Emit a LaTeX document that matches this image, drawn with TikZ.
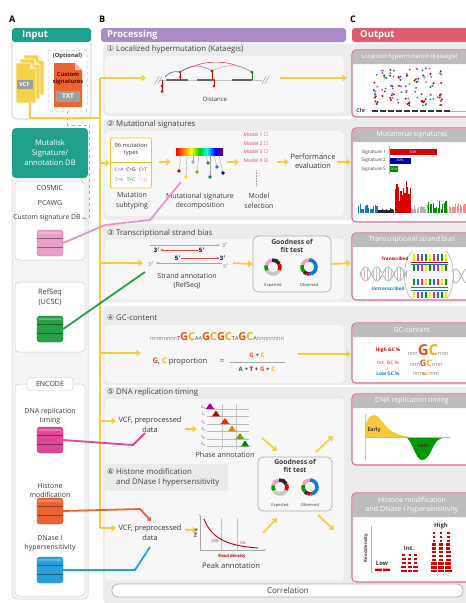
\documentclass[tikz,border=0pt]{standalone}
\usepackage{fontspec}
\setmainfont{Open Sans}
\newfontfamily\symfont{DejaVu Sans}
\usetikzlibrary{arrows.meta}

\definecolor{mteal}{RGB}{32,160,140}
\definecolor{mpurple}{RGB}{170,138,200}
\definecolor{mred}{RGB}{222,92,110}
\definecolor{outline}{RGB}{214,110,140}
\definecolor{yline}{RGB}{246,206,60}
\definecolor{bandgray}{RGB}{236,236,236}
\definecolor{panelgray}{RGB}{247,247,247}
\definecolor{hdgray}{RGB}{188,188,188}
\definecolor{dbpink}{RGB}{232,160,200}
\definecolor{dbgreen}{RGB}{40,160,70}
\definecolor{dbmagenta}{RGB}{226,70,150}
\definecolor{dborange}{RGB}{236,100,50}
\definecolor{dbblue}{RGB}{40,160,222}
\definecolor{vcfyellow}{RGB}{244,210,70}
\definecolor{txtorange}{RGB}{236,100,50}
\definecolor{gcG}{RGB}{232,84,30}
\definecolor{gcC}{RGB}{240,176,20}
\definecolor{modelred}{RGB}{215,70,120}

\pgfdeclarehorizontalshading{rainbowbar}{100bp}{color(0bp)=(red); color(25bp)=(red); color(33bp)=(orange); color(41bp)=(yellow); color(50bp)=(green!80!black); color(58bp)=(cyan); color(66bp)=(blue); color(75bp)=(violet!80!black); color(100bp)=(violet!80!black)}

\newcommand\sqS[2]{{\fontsize{5.5}{6}\selectfont\color{#1}#2}}
\newcommand\sqB[2]{{\fontsize{11}{11}\selectfont\bfseries\color{#1}#2}}

\tikzset{
  fs/.style 2 args={font=\fontsize{#1}{#2}\selectfont},
  lab/.style={inner sep=0pt, align=center, text=black!78},
  hdtext/.style={inner sep=0pt, text=white, font=\bfseries\fontsize{9.5}{10}\selectfont},
  sechd/.style={inner sep=0pt, anchor=west, text=black!75, font=\fontsize{7.8}{9.6}\selectfont, align=left},
  yarr/.style={draw=yline, line width=1.7pt, -{Triangle[length=4.5pt,width=6.5pt]}},
  ypath/.style={draw=yline, line width=1.7pt},
  dbline/.style={line width=1.8pt},
  wbox/.style={draw=gray!40, fill=white, rounded corners=4pt, line width=0.5pt},
  outbox/.style={draw=outline, line width=1.1pt, fill=white, rounded corners=4pt},
  outtxt/.style={inner sep=0pt, text=white, font=\fontsize{7}{8.6}\selectfont, align=center},
  gbox/.style={draw=gray!65, fill=panelgray, rounded corners=5pt, line width=0.7pt},
  dbnode/.style={rectangle, rounded corners=3pt, minimum width=26pt, minimum height=26pt, inner sep=0pt,
    fill=#1, draw=#1!75!black, line width=0.4pt,
    path picture={
      \draw[#1!60!black, line width=0.5pt] ([yshift=-8.7pt]path picture bounding box.north west) -- ([yshift=-8.7pt]path picture bounding box.north east);
      \draw[#1!60!black, line width=0.5pt] ([yshift=8.7pt]path picture bounding box.south west) -- ([yshift=8.7pt]path picture bounding box.south east);
      \fill[white, opacity=0.25] ([yshift=-2pt]path picture bounding box.north west) rectangle ([yshift=-4pt]path picture bounding box.north east);
    }},
  expdonut/.pic={
    \foreach \a/\b/\c in {195/260/dbpink, 262/335/black!85, 337/388/red!85!black, 30/150/gray!45, 152/193/green!60!black}
      \draw[line width=3.6pt, \c] (\a:7) arc[start angle=\a, end angle=\b, radius=7];
  },
  obsdonut/.pic={
    \foreach \a/\b/\c in {200/268/dbpink, 270/445/cyan!60!blue, 85/110/red!85!black, 110/137/black!85, 139/198/green!60!black}
      \draw[line width=3.6pt, \c] (\a:7) arc[start angle=\a, end angle=\b, radius=7];
  },
}

\begin{document}
\begin{tikzpicture}[x=1pt,y=-1pt]
\useasboundingbox (0,0) rectangle (466,603);
\clip (0,0) rectangle (466,603);
\fill[white] (0,0) rectangle (466,603);

% ---------- panel letters
\node[inner sep=0, anchor=west, font=\bfseries\fontsize{9}{10}\selectfont] (letA) at (9,19) {A};
\node[inner sep=0, anchor=west, font=\bfseries\fontsize{9}{10}\selectfont] (letB) at (99,19) {B};
\node[inner sep=0, anchor=west, font=\bfseries\fontsize{9}{10}\selectfont] (letC) at (350,19) {C};

% ---------- section bands of the processing / output area
\fill[bandgray, rounded corners=4pt] (103,44) rectangle (472,116);
\fill[bandgray, rounded corners=4pt] (103,119) rectangle (472,220);
\fill[bandgray, rounded corners=4pt] (103,224) rectangle (472,302);
\fill[bandgray, rounded corners=4pt] (103,306) rectangle (472,385);
\fill[bandgray, rounded corners=4pt] (103,387) rectangle (472,603);
\fill[panelgray, rounded corners=4pt] (105,56) rectangle (344,113);
\fill[panelgray, rounded corners=4pt] (105,131) rectangle (344,216);
\fill[panelgray, rounded corners=4pt] (105,239) rectangle (344,299);
\fill[panelgray, rounded corners=4pt] (105,325) rectangle (344,383);
\fill[panelgray, rounded corners=4pt] (105,399) rectangle (344,580);

% ---------- column A: input
\draw[gray!45, fill=white, rounded corners=5pt, line width=0.6pt] (12,36) rectangle (91,119);
\fill[mteal, rounded corners=3pt] (12,28) rectangle (91,42);
\node[hdtext, anchor=west] (inputhd) at (22,35) {Input};

\foreach \dx/\dy in {8/-8, 4/-4, 0/0}{
  \filldraw[fill=vcfyellow, draw=white, line width=0.6pt] (16+\dx,63+\dy) -- (16+\dx,103+\dy) -- (36+\dx,103+\dy) -- (36+\dx,69+\dy) -- (30+\dx,63+\dy) -- cycle;
  \fill[white!60!vcfyellow] (30+\dx,63+\dy) -- (30+\dx,69+\dy) -- (36+\dx,69+\dy) -- cycle;
}
\node[fill=gray!75, text=white, font=\bfseries\fontsize{5.6}{6}\selectfont, inner sep=0, minimum width=16pt, minimum height=9pt] (vcflab) at (24.5,84) {VCF};
\coordinate (vcfout) at (30,103);

\draw[gray!60, dashed, line width=0.5pt, rounded corners=2pt] (48,50) rectangle (87,111);
\node[lab, font=\bfseries\fontsize{5.8}{6}\selectfont] (optlab) at (67.5,56) {(Optional)};
\fill[txtorange] (54,63) -- (54,107) -- (82,107) -- (82,70) -- (75,63) -- cycle;
\fill[white!60!txtorange] (75,63) -- (75,70) -- (82,70) -- cycle;
\node[lab, text=red!35!black, font=\bfseries\fontsize{5.8}{7}\selectfont] (custsig) at (68,79) {Custom\\signatures};
\node[fill=gray!75, text=white, font=\bfseries\fontsize{6.5}{6.5}\selectfont, inner sep=0, minimum width=24pt, minimum height=11pt] (txtlab) at (68,96) {TXT};
\coordinate (optout) at (67.5,111);

% ---------- column A: signature / annotation databases
\draw[gray!40, fill=gray!8, rounded corners=4pt, line width=0.5pt] (12,170) rectangle (88,599);
\fill[mteal, rounded corners=4pt] (12,128) rectangle (88,178);
\node[lab, text=white, fs={7.6}{10}] (dbtitle) at (50,153) {Mutalisk\\Signature/\\annotation DB};

\draw[wbox] (15,181) rectangle (85,260);
\node[lab, fs={7}{7}] (cosmic) at (50,188) {COSMIC};
\node[lab, fs={7}{7}] (pcawg) at (50,203) {PCAWG};
\node[lab, fs={6.8}{7}] (csdb) at (47,218) {Custom signature DB};
\node[dbnode=dbpink] (pinkdb) at (50,243) {};

\draw[wbox] (15,282) rectangle (85,352);
\node[lab, fs={7.3}{10}] (refseq) at (50,297) {RefSeq\\(UCSC)};
\node[dbnode=dbgreen] (greendb) at (50,329) {};

\draw[wbox] (15,384) rectangle (85,596);
\node[draw=gray!45, fill=white, rounded corners=3pt, inner sep=0, minimum width=46pt, minimum height=13pt, fs={7}{7}, text=black!78] (encode) at (50,384) {ENCODE};
\node[lab, fs={7}{9}] (dnarep) at (50,416) {DNA replication\\timing};
\node[dbnode=dbmagenta] (magdb) at (50,440) {};
\node[lab, fs={7}{9}] (histone) at (50,490) {Histone\\modification};
\node[dbnode=dborange] (orgdb) at (50,511) {};
\node[lab, fs={7}{9}] (dnase) at (50,543) {DNase I\\hypersensitivity};
\node[dbnode=dbblue] (bluedb) at (50,570) {};

% dashed route of the optional signatures
\draw[gray!60, dashed, line width=0.6pt, -{Stealth[length=3pt]}] (optout) -- (67.5,125) -- (89.5,125) -- (89.5,218) -- ([xshift=1pt]csdb.east);

% ---------- yellow data flow
\coordinate (ytop) at (100,78);
\coordinate (ybot) at (100,528);
\coordinate (yjoin) at (100,118);
\draw[ypath] (vcfout) -- (30,118) -- (yjoin);
\draw[ypath] (ytop) -- (ybot);

% ---------- (1) kataegis
\node[sechd] (h1) at (107,49) {{\symfont ①} Localized hypermutation (Kataegis)};
\coordinate (katin) at (146,78);
\coordinate (katout1) at (280,78);
\coordinate (katout2) at (347,78);
\draw[yarr] (ytop) -- (katin);
\draw[yarr] (katout1) -- (katout2);
\draw[gray!50, line width=0.6pt] (160,80) -- (262,80);
\foreach \a/\b in {166/188, 197/215, 232/252}
  \draw[black!60, line width=2pt] (\a,80) -- (\b,80);
\draw[gray!70, line width=0.5pt] (155,84) -- (159,76) (158,84) -- (162,76) (262,84) -- (266,76) (265,84) -- (269,76);
\draw[cyan!60!blue, line width=0.6pt] (165,77) to[bend left=30] (180,72);
\draw[cyan!50!blue!70, line width=0.6pt] (180,72) to[bend left=35] (212,71);
\draw[red!75, line width=0.6pt] (180,72) to[bend left=28] (252,72);
\draw[gray!60, line width=0.6pt] (212,71) to[bend left=30] (252,72);
\draw[red!80!black, line width=0.5pt] (162,80) -- (162,92);
\fill[red!80!black] (162,86) circle (1.3) (162,91.5) circle (1.3);
\draw[red!80!black, line width=0.5pt] (180,80) -- (180,72);
\fill[cyan!60!blue] (180,72) circle (1.5);
\fill[red!80!black] (180,77) circle (1.1);
\draw[red!80!black, line width=0.5pt] (212,80) -- (212,71) (214,80) -- (214,86);
\fill[red!80!black] (212,71) circle (1.5) (214,86) circle (1.3);
\draw[green!50!black, line width=0.5pt] (252,80) -- (252,72);
\fill[green!50!black] (252,72) circle (1.5);
\node[lab, fs={6}{6}] (dist) at (215,99) {Distance};

% ---------- (2) mutational signatures
\node[sechd] (h2) at (107,124) {{\symfont ②} Mutational signatures};
\node[draw=yline!80!orange, line width=0.8pt, fill=white, rounded corners=2pt, minimum width=41pt, minimum height=50pt, inner sep=0] (mbox) at (131,163) {};
\draw[yline!80!orange, line width=0.6pt] ([yshift=1pt]mbox.west) -- ([yshift=1pt]mbox.east);
\node[lab, fs={5.8}{7}] (m96) at (131,150) {96 mutation\\types};
\node[lab, fs={4.8}{5}, text=blue!70] (ca) at (119,170) {C>A};
\node[lab, fs={4.8}{5}, text=black] (cg) at (131,170) {C>G};
\node[lab, fs={4.8}{5}, text=red!80!black] (ct) at (143,170) {C>T};
\node[lab, fs={4.8}{5}, text=gray] (ta) at (119,180) {T>A};
\node[lab, fs={4.8}{5}, text=green!55!black] (tc) at (131,180) {T>C};
\node[lab, fs={4.8}{5}, text=dbpink] (tg) at (143,180) {T>G};
\node[lab, fs={7}{9.5}] (msub) at (132,201) {Mutation\\subtyping};
\draw[yarr] (100,163) -- (mbox.west);

\coordinate (dec1) at (159,162);
\coordinate (dec2) at (171,162);
\draw[yarr] (dec1) -- (dec2);
\shade[shading=rainbowbar] (176,148) rectangle (223,155);
\foreach \xa/\xb/\yb/\c in {181/179/171/red!85!black, 187/186/177/yellow!80!orange, 193/193/162/gray!70, 199/197/172/olive!80!yellow, 206/208/163/teal!60!gray, 210/210/177/teal, 214/217/167/cyan!60!blue, 219/223/173/blue!60!black}{
  \draw[gray!70, line width=0.4pt] (\xa,155) -- (\xb,\yb);
  \fill[\c] (\xb,\yb) circle (1.8);
}
\node[lab, fs={7}{9.5}] (mdec) at (200,201) {Mutational signature\\decomposition};

\coordinate (sel1) at (227,162);
\coordinate (sel2) at (239,162);
\draw[yarr] (sel1) -- (sel2);
\node[lab, text=modelred, fs={5}{5}] (mod1) at (256,135) {Model 1 {\symfont ☐}};
\node[lab, text=modelred, fs={5}{5}] (mod2) at (256,143.5) {Model 2 {\symfont ☐}};
\node[lab, text=modelred, fs={5}{5}] (mod3) at (256,152) {Model 3 {\symfont ☐}};
\node[lab, text=modelred, fs={5}{5}] (mod4) at (256,160.5) {Model 4 {\symfont ☑}};
\draw[gray!70, densely dotted, line width=0.6pt] (256,170) -- (256,187);
\node[lab, fs={7}{9.5}] (msel) at (259,201) {Model\\selection};

\coordinate (perf1) at (277,162);
\coordinate (perf2) at (289,162);
\draw[yarr] (perf1) -- (perf2);
\node[lab, fs={7.4}{9.5}] (perf) at (313,161) {Performance\\evaluation};
\coordinate (perf3) at (337,162);
\coordinate (perf4) at (351,162);
\draw[yarr] (perf3) -- (perf4);

% ---------- (3) transcriptional strand bias
\node[sechd] (h3) at (107,233) {{\symfont ③} Transcriptional strand bias};
\coordinate (sb1) at (150,245);
\coordinate (sb2) at (220,245);
\draw[gray!70, line width=0.6pt, -{Stealth[length=3pt]}] (sb1) -- (sb2);
\node[lab, fs={5.5}{5.5}, text=gray] (p1) at (225,245) {3$'$};
\node[lab, font=\bfseries\fontsize{6}{6}\selectfont, text=black] (p2) at (157,250) {3$'$};
\node[lab, font=\bfseries\fontsize{6}{6}\selectfont, text=black] (p3) at (202,250) {5$'$};
\draw[red!75, line width=0.9pt, -{Stealth[length=3pt]}] (p3.west) -- (p2.east);
\node[lab, font=\bfseries\fontsize{6}{6}\selectfont, text=black] (p4) at (178,258) {5$'$};
\node[lab, font=\bfseries\fontsize{6}{6}\selectfont, text=black] (p5) at (223,258) {3$'$};
\draw[red!75, line width=0.9pt, -{Stealth[length=3pt]}] (p4.east) -- (p5.west);
\coordinate (sb3) at (222,263);
\coordinate (sb4) at (156,263);
\draw[gray!70, line width=0.6pt, -{Stealth[length=3pt]}] (sb3) -- (sb4);
\node[lab, fs={5.5}{5.5}, text=gray] (p6) at (151,264) {3$'$};
\node[lab, fs={5.5}{5.5}, text=gray] (p7) at (226,266) {5$'$};
\node[lab, fs={7}{9}] (strand) at (187,281) {Strand annotation\\(RefSeq)};
\draw[yarr] (100,263) -- (143,263);

\node[gbox, minimum width=78pt, minimum height=56pt, inner sep=0] (gof1) at (292,264) {};
\coordinate (g1in) at (233,263);
\draw[yarr] (g1in) -- (gof1.west);
\node[lab, font=\bfseries\fontsize{6.8}{7.4}\selectfont] (gof1t) at (292,246) {Goodness of\\fit test};
\pic at (273,267) {expdonut};
\pic at (309,267) {obsdonut};
\node[lab, fs={4}{4}] (exp1) at (273,285) {Expected};
\node[lab, fs={4}{4}] (obs1) at (309,285) {Observed};
\coordinate (g1out) at (351,263);
\draw[yarr] (gof1.east) -- (g1out);

% ---------- (4) GC content
\node[sechd] (h4) at (107,318) {{\symfont ④} GC-content};
\node[inner sep=0] (seq) at (217,337) {\sqS{gray}{nnnnnnnn}\sqS{red!75!black}{T}\sqB{gcG}{G}\sqB{gcC}{C}\sqS{green!50!black}{AA}\sqB{gcG}{G}\sqB{gcC}{C}\sqB{gcG}{G}\sqB{gcC}{C}\sqS{red!75!black}{T}\sqS{green!50!black}{A}\sqB{gcG}{G}\sqB{gcC}{C}\sqS{green!50!black}{A}\sqS{gray}{nnnnnnnn}};
\node[lab, fs={7.6}{8}] (gcprop) at (180,362) {{\bfseries\color{gcG}G}, {\bfseries\color{gcC}C} proportion};
\node[lab, fs={7.6}{8}] (eq) at (222,362) {=};
\node[lab, font=\bfseries\fontsize{6.2}{6.5}\selectfont] (num) at (257,355) {{\color{gcG}G} + {\color{gcC}C}};
\draw[gray!70, line width=0.6pt] (230,362) -- (285,362);
\node[lab, font=\bfseries\fontsize{6.2}{6.5}\selectfont] (den) at (257,369.5) {{\color{green!55!black}A} + {\color{red!80!black}T} + {\color{gcG}G} + {\color{gcC}C}};
\draw[yarr] (100,353) -- (141,353);
\coordinate (gcout1) at (298,354);
\coordinate (gcout2) at (351,354);
\draw[yarr] (gcout1) -- (gcout2);

% ---------- (5) DNA replication timing
\node[sechd] (h5) at (107,392) {{\symfont ⑤} DNA replication timing};
\node[lab, fs={7.4}{10}] (vcf1) at (150,425) {VCF, preprocessed\\data};
\draw[yarr] (100,421) -- (116,421);
\coordinate (ph1) at (185,429);
\coordinate (ph2) at (197,429);
\draw[yarr] (ph1) -- (ph2);
\draw[gray!45, line width=0.4pt] (222,404) -- (222,449) (236,404) -- (236,449);
\foreach \yy/\px/\c/\lb in {409/210/violet!70!magenta/{G\textsubscript{1}}, 416.5/216/red!80!black/{S\textsubscript{1}}, 424/225/red!75!orange/{S\textsubscript{2}}, 431.5/232/orange!80!olive/{S\textsubscript{3}}, 439/240/olive!70!green/{S\textsubscript{4}}, 446.5/245/green!55!black/{G\textsubscript{2}}}{
  \draw[gray!55, line width=0.4pt] (207,\yy) -- (249,\yy);
  \fill[\c] plot[domain=-6:6, samples=25] ({\px+\x},{\yy-5.5*exp(-\x*\x/7)}) -- cycle;
  \node[lab, fs={3.6}{3.6}] at (203.5,\yy-1.5) {\lb};
}
\node[lab, fs={7.2}{8}] (phase) at (225,455) {Phase annotation};

\node[gbox, minimum width=74pt, minimum height=54pt, inner sep=0] (gof2) at (295,484) {};
\node[lab, font=\bfseries\fontsize{6.8}{7.4}\selectfont] (gof2t) at (295,466) {Goodness of\\fit test};
\pic at (280,487) {expdonut};
\pic at (310,487) {obsdonut};
\node[lab, fs={4}{4}] (exp2) at (280,505) {Expected};
\node[lab, fs={4}{4}] (obs2) at (310,505) {Observed};
\coordinate (d1a) at (262,438);
\coordinate (d1b) at (277,451);
\draw[yarr] (d1a) -- (d1b);
\coordinate (d2a) at (316,452);
\coordinate (d2b) at (333,436);
\draw[yarr] (d2a) -- (d2b);
\coordinate (d3a) at (263,533);
\coordinate (d3b) at (277,518);
\draw[yarr] (d3a) -- (d3b);
\coordinate (d4a) at (318,515);
\coordinate (d4b) at (334,530);
\draw[yarr] (d4a) -- (d4b);

% ---------- (6) histone modification and DNase I hypersensitivity
\fill[gray!16, rounded corners=2pt] (105,464) rectangle (228,491);
\node[sechd] (h6) at (107,477.5) {{\symfont ⑥} Histone modification\\{\symfont\phantom{⑥}} and DNase I hypersensitivity};
\node[lab, fs={7.4}{10}] (vcf2) at (150,533) {VCF, preprocessed\\data};
\draw[yarr] (ybot) -- (116,528);
\coordinate (pk1) at (185,530);
\coordinate (pk2) at (197,530);
\draw[yarr] (pk1) -- (pk2);
\coordinate (ax0) at (200,550);
\draw[gray!45, line width=0.4pt] (221,518) -- (221,550) (237,518) -- (237,550);
\draw[gray!70, line width=0.5pt, -{Stealth[length=2.5pt]}] (ax0) -- (200,514);
\draw[gray!70, line width=0.5pt, -{Stealth[length=2.5pt]}] (ax0) -- (266,550);
\draw[red!70!black, line width=0.9pt] (204,519) .. controls (212,540) and (230,546) .. (258,548);
\node[lab, fs={3.6}{4}, text=red!70!black] (p20) at (215,541) {20\%};
\node[lab, fs={3.6}{4}, text=red!70!black] (p5b) at (243,543) {5\%};
\node[lab, font=\bfseries\fontsize{4}{4}\selectfont, rotate=90] (freq) at (196,533) {Freq.};
\node[lab, font=\bfseries\fontsize{4.2}{4.2}\selectfont, text=red!70!black] (rd) at (232,556) {Read density};
\node[lab, fs={7.6}{8}] (peak) at (231,566) {Peak annotation};

\node[draw=gray!60, fill=white, rounded corners=6pt, line width=0.8pt, minimum width=351pt, minimum height=13pt, inner sep=0] (corr) at (287.5,590.5) {};
\node[lab, fs={8}{8}] (corrt) at (288,590.5) {Correlation};

% ---------- database links into the processing steps
\draw[dbline, dbpink!90!magenta] (pinkdb.east) -- (105,225) -- (150,220) -- (181,182);
\draw[dbline, dbgreen] (greendb.east) -- (145,272);
\draw[dbline, dbmagenta] (magdb.east) -- (133,445) -- (145,433);
\draw[dbline, dborange, -{Triangle[length=3.5pt,width=5pt]}] (orgdb.east) -- (140,509) -- (151,521);
\draw[dbline, dbblue] (bluedb.east) -- (135,570) -- (150,547);

% ---------- headers of columns B and C
\fill[mred, rounded corners=3pt] (352,28) rectangle (476,42);
\node[hdtext, anchor=west] (outhd) at (360,35) {Output};
\fill[mpurple, rounded corners=3pt] (101,28) rectangle (346,42);
\node[hdtext, anchor=west] (prochd) at (107,35) {Processing};

% ---------- column C: output boxes
\foreach \ya/\yb/\yh in {50/117/64, 128/222/142, 233/300/247, 323/383/337, 394/465/408, 493/582/517}{
  \draw[outbox] (352,\ya) rectangle (478,\yb);
  \fill[hdgray] (352.6,\yh) {[rounded corners=3.5pt] -- (352.6,\ya+0.6) -- (478,\ya+0.6)} -- (478,\yh) -- cycle;
}
\node[outtxt, font=\fontsize{5.9}{7}\selectfont] (o1) at (409.5,57) {Localized hypermutation (Kataegis)};
\node[outtxt] (o2) at (412,135) {Mutational signatures};
\node[outtxt] (o3) at (412,240) {Transcriptional strand bias};
\node[outtxt] (o4) at (412,330) {GC-content};
\node[outtxt] (o5) at (412,401) {DNA replication timing};
\node[outtxt] (o6) at (412,505) {Histone modification\\and DNase I hypersensitivity};

% kataegis rainfall plot: mutations stacked in chromosome columns
\pgfmathsetseed{11}
\foreach \cx in {376,384,392,400,408,416,424,432,440}{
  \foreach \c in {red!80!black, black!70, teal!80, blue!60, magenta!70}{
    \foreach \i in {1,2}{
      \pgfmathsetmacro\px{\cx+5*(rnd-0.5)}
      \pgfmathsetmacro\py{68+38*rnd}
      \fill[\c] (\px,\py) circle (1.1);
    }
  }
}
\foreach \cx in {376,392,408,424,440}{
  \foreach \i in {1,...,4}{
    \pgfmathsetmacro\px{\cx+4*(rnd-0.5)}
    \pgfmathsetmacro\py{94+12*rnd}
    \fill[red!80!black] (\px,\py) circle (1.1);
  }
}
\node[lab, font=\bfseries\fontsize{5.2}{5}\selectfont] (chr) at (361,111) {Chr};
\foreach \a in {372,380,...,444}
  \fill[black!80] (\a,109.5) rectangle (\a+5.5,112);
\draw[gray!60, line width=0.5pt] (450,111) -- (466,111);

% signature contributions
\draw[gray!60, line width=0.5pt] (389,146) -- (389,174);
\node[lab, fs={4.6}{5}, anchor=east] (s1) at (386,152) {Signature 1};
\node[lab, fs={4.6}{5}, anchor=east] (s2) at (386,160.5) {Signature 2};
\node[lab, fs={4.6}{5}, anchor=east] (s5) at (386,169) {Signature 5};
\fill[red!85!black] (389.5,149) rectangle (437,155);
\node[lab, fs={3.5}{4}, text=white] at (413,152) {50\%};
\fill[blue!65!black] (389.5,157.5) rectangle (411,163.5);
\node[lab, fs={3.5}{4}, text=white] at (400,160.5) {30\%};
\fill[green!55!black] (389.5,166) rectangle (398,172);
\node[lab, fs={3.2}{4}, text=white] at (394,169) {20\%};
\pgfmathsetseed{5}
\foreach \xa/\xb/\c/\h in {358/378/cyan!60!blue/10, 378/394/black!85/5, 395/411/red!85!black/32, 411/428/gray!60/9, 428/447/green!55!black/12, 447/466/red!45/10}{
  \foreach \k in {0,...,11}{
    \pgfmathsetmacro\bx{\xa+\k*(\xb-\xa)/12}
    \pgfmathsetmacro\bh{\h*(0.35+0.65*rnd)}
    \fill[\c] (\bx,213) rectangle (\bx+1.2,213-\bh);
  }
}

% strand bias sketch
\draw[gray!60, line width=0.8pt] plot[domain=360:407, samples=60] (\x,{274+7*sin(16*\x)});
\draw[gray!60, line width=0.8pt] plot[domain=360:407, samples=60] (\x,{274-7*sin(16*\x)});
\foreach \x in {361,364,...,406} \draw[gray!50, line width=0.5pt] (\x,{274+6*sin(16*\x)}) -- (\x,{274-6*sin(16*\x)});
\draw[gray!60, line width=0.8pt] plot[domain=452:470, samples=30] (\x,{276+7*sin(16*\x)});
\draw[gray!60, line width=0.8pt] plot[domain=452:470, samples=30] (\x,{276-7*sin(16*\x)});
\draw[gray!55, line width=0.7pt] (412,251) .. controls (402,262) and (402,290) .. (412,299);
\draw[gray!55, line width=0.7pt] (446,251) .. controls (456,262) and (456,290) .. (446,299);
\foreach \x/\c in {414/yellow!90!orange,418/red!80,422/blue!70,426/green!60!black,430/yellow!90!orange,434/red!80,438/blue!70,442/green!60!black,446/yellow!90!orange}{
  \draw[\c, line width=1.3pt] (\x,254) -- (\x,261);
  \draw[\c, line width=1.3pt] (\x,292) -- (\x,298);
}
\foreach \x/\c in {414/green!60!black,418/blue!70,422/red!80,426/yellow!90!orange,430/green!60!black,434/blue!70,438/red!80,442/yellow!90!orange,446/green!60!black}{
  \draw[\c, line width=1.3pt] (\x,265) -- (\x,271);
  \draw[\c, line width=1.3pt] (\x,279) -- (\x,285);
}
\draw[red!80!black, line width=0.9pt] (411,262) -- (448,262);
\draw[cyan!60!blue, line width=0.9pt] (411,264) -- (448,264);
\draw[cyan!60!blue, line width=0.9pt] (411,287) -- (448,287);
\draw[cyan!60!blue, line width=0.9pt] (411,290) -- (448,290);
\node[lab, font=\bfseries\fontsize{4.6}{5}\selectfont, text=red!80!black] (trans) at (395,259) {Transcribed};
\node[lab, font=\bfseries\fontsize{4.6}{5}\selectfont, text=cyan!60!blue] (untrans) at (388,289) {Untranscribed};

% GC content levels
\node[lab, font=\bfseries\fontsize{4.8}{5}\selectfont, text=red!80!black] (hgc) at (388,350) {High GC \%};
\node[lab, font=\bfseries\fontsize{4.8}{5}\selectfont, text=red!60] (igc) at (388,363) {Int. GC \%};
\node[lab, font=\bfseries\fontsize{4.8}{5}\selectfont, text=cyan!60!blue] (lgc) at (388,374) {Low GC \%};
\node[inner sep=0] (hgcs) at (428,350) {\sqS{gray}{nnn}{\fontsize{15}{15}\selectfont\bfseries\color{gcG}G\color{gcC}C}\sqS{gray}{nnn}};
\node[inner sep=0] (igcs) at (426,363) {\sqS{gray}{nnn}{\fontsize{9}{9}\selectfont\bfseries\color{gcG}G\color{gcC}C}\sqS{gray}{nnn}};
\node[inner sep=0] (lgcs) at (426,374) {\sqS{gray}{nnn}{\fontsize{4.5}{5}\selectfont\bfseries\color{gcG}G\color{gcC}C}\sqS{gray}{nnn}};

% replication timing profile
\draw[gray!45, line width=0.5pt] (365,414) -- (365,460);
\fill[yline!95!orange] (365,437) -- (365,428) .. controls (367,418) and (370,415) .. (374,415) .. controls (380,415) and (384,428) .. (395,433) .. controls (402,436) and (408,437) .. (412,437) -- cycle;
\fill[green!60!black] (405,437) .. controls (412,438) and (415,460) .. (422,460) .. controls (430,460) and (432,445) .. (438,440) .. controls (441,438) and (444,437) .. (448,437) -- cycle;
\draw[gray!55, line width=0.5pt] (365,437) -- (450,437);
\node[lab, font=\bfseries\fontsize{5.2}{5}\selectfont] (early) at (374,430) {Early};
\node[lab, font=\bfseries\fontsize{5.2}{5}\selectfont] (late) at (423,446) {Late};

% read density stacks
\node[lab, font=\bfseries\fontsize{4.4}{5}\selectfont, rotate=90] (rdy) at (366,548) {Read density};
\draw[gray!60, line width=0.5pt] (371,526) -- (371,573);
\node[lab, font=\bfseries\fontsize{6}{6}\selectfont] (low) at (382,563) {Low};
\node[lab, font=\bfseries\fontsize{6}{6}\selectfont] (int) at (409,548) {Int.};
\node[lab, font=\bfseries\fontsize{6}{6}\selectfont] (high) at (441,526) {High};
\fill[red!85!black] (375,568.5) rectangle (382,571) (383,568.5) rectangle (390,571);
\foreach \j in {0,...,4}
  \foreach \a/\b in {401/406.5, 407.5/412, 413/418}
    \fill[red!85!black] (\a+0.3*\j,570-4*\j) rectangle (\b-0.3*\j,572.3-4*\j);
\foreach \j in {0,...,10}
  \foreach \a/\b in {431/437, 438/444, 445/451.5}
    \fill[red!85!black] (\a+0.2*\j,570-3.8*\j) rectangle (\b-0.2*\j,572.3-3.8*\j);
\end{tikzpicture}
\end{document}
